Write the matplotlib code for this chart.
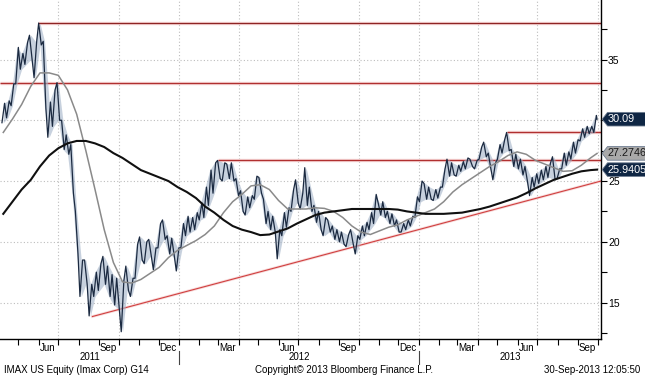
import numpy as np
import pandas as pd
import matplotlib
matplotlib.use("Agg")
import matplotlib.pyplot as plt
import matplotlib.dates as mdates
import matplotlib.transforms as mtransforms
from matplotlib.patches import Polygon
from matplotlib.lines import Line2D

plt.rcParams['font.family'] = ['Liberation Sans', 'DejaVu Sans']

# ---------------- data ----------------
week_start = "2011-04-08"
week_end = "2013-09-27"
weekly_low = [29.8, 30.2, 31.2, 33.0, 34.2, 34.6, 35.0, 33.5, 36.2, 31.0,
              28.6, 29.5, 30.0, 27.6, 27.2, 24.0, 19.0, 15.5, 16.5, 13.9,
              15.5, 16.0, 16.5, 15.5, 14.8, 14.5, 12.6, 16.0, 15.5, 17.0,
              18.5, 18.2, 18.8, 17.7, 19.5, 20.2, 19.0, 18.8, 17.6, 19.5,
              20.5, 20.8, 21.0, 21.8, 22.0, 23.0, 24.0, 25.2, 25.0, 25.2,
              25.0, 23.8, 22.5, 22.2, 22.8, 23.5, 24.0, 21.5, 21.0, 20.8,
              18.6, 20.5, 21.2, 22.5, 23.2, 22.7, 23.0, 22.5, 21.6, 21.0,
              20.5, 20.8, 20.2, 20.0, 19.8, 19.6, 19.8, 19.0, 20.2, 20.5,
              21.0, 21.5, 22.2, 22.0, 21.5, 21.3, 20.8, 20.8, 21.0, 21.3,
              22.0, 23.3, 23.5, 23.5, 23.4, 23.6, 24.5, 25.4, 25.5, 25.4,
              25.8, 26.0, 26.2, 26.0, 26.8, 27.0, 26.0, 25.1, 26.8, 27.3,
              27.5, 26.2, 26.0, 25.5, 24.9, 23.8, 24.5, 24.8, 25.1, 25.3,
              25.1, 25.2, 26.0, 26.3, 26.8, 27.3, 28.3, 28.6, 28.9, 29.0]
weekly_high = [31.4, 31.6, 33.0, 36.0, 35.5, 36.4, 37.0, 36.5, 38.0, 36.5,
               31.5, 32.5, 33.1, 30.0, 28.8, 28.0, 22.5, 18.5, 18.5, 16.5,
               17.5, 18.2, 18.8, 18.0, 17.3, 17.0, 16.8, 18.0, 17.0, 19.8,
               20.4, 20.0, 20.2, 19.5, 21.5, 21.8, 20.5, 20.3, 19.5, 21.5,
               22.1, 22.0, 22.4, 23.2, 24.5, 25.9, 26.5, 26.7, 26.5, 26.4,
               26.5, 25.2, 24.2, 23.7, 23.8, 25.4, 25.3, 23.5, 22.5, 22.1,
               21.0, 22.4, 22.8, 24.3, 25.1, 24.0, 26.1, 24.5, 23.0, 22.5,
               22.0, 21.8, 21.3, 21.0, 20.8, 20.6, 21.0, 20.5, 21.3, 21.6,
               22.4, 23.9, 23.2, 23.3, 22.5, 22.3, 21.8, 21.5, 21.8, 22.1,
               23.7, 25.0, 24.8, 24.5, 24.3, 24.5, 26.0, 26.8, 26.5, 26.3,
               26.6, 26.9, 26.8, 26.7, 27.8, 28.2, 27.3, 26.5, 28.0, 28.4,
               29.0, 27.6, 27.2, 26.8, 26.2, 25.3, 25.6, 25.9, 26.2, 26.5,
               27.0, 26.0, 27.3, 27.4, 28.2, 28.4, 29.3, 29.5, 29.5, 30.4]
last_date = "2013-09-30"
last_close = 30.09

# moving averages, one value every two weeks from week_start, plus last day
ma50 = [29.0, 30.1, 31.3, 32.8, 33.9, 33.9, 33.7, 32.5, 30.5, 27.5,
        24.3, 21.0, 18.3, 16.7, 16.6, 16.9, 17.4, 17.9, 18.7, 19.3,
        19.7, 20.1, 20.6, 21.3, 22.4, 23.3, 23.9, 24.6, 24.7, 24.3,
        23.4, 22.7, 22.7, 22.7, 22.8, 22.75, 22.5, 22.0, 21.3, 20.8,
        20.6, 20.9, 21.2, 21.4, 21.8, 22.1, 22.4, 22.7, 23.3, 24.1,
        24.7, 25.2, 25.7, 26.2, 26.6, 27.1, 27.4, 27.2, 26.7, 26.4,
        26.1, 25.8, 25.85, 26.3, 26.9]
ma200 = [22.3, 23.3, 24.3, 25.1, 26.2, 27.1, 27.7, 28.1, 28.3, 28.3,
         28.1, 27.8, 27.3, 26.9, 26.4, 25.9, 25.6, 25.3, 25.0, 24.5,
         24.1, 23.6, 22.9, 22.4, 21.8, 21.3, 21.0, 20.8, 20.55, 20.6,
         20.85, 21.1, 21.5, 21.85, 22.2, 22.4, 22.5, 22.6, 22.7, 22.7,
         22.7, 22.7, 22.7, 22.65, 22.5, 22.4, 22.3, 22.3, 22.3, 22.35,
         22.4, 22.55, 22.7, 22.9, 23.15, 23.4, 23.65, 24.0, 24.4, 24.75,
         25.1, 25.35, 25.6, 25.8, 25.9]
ma50_last = 27.2746
ma200_last = 25.9405

resistance_levels = [38.0, 33.03, 26.73, 29.06]
resistance_starts = ["2011-05-31", "2011-04-03", "2012-02-29", "2013-05-15"]
trend_dates = ["2011-08-22", "2013-10-06"]
trend_values = [13.85, 25.0]

x_start, x_end = "2011-04-03", "2013-10-06"
y_ticks = [15, 20, 25, 30, 35]
y_tick_labels = ["15", "20", "25", "", "35"]
month_labels_months = [3, 6, 9, 12]

footer_left = "IMAX US Equity (Imax Corp) G14"
footer_mid = "Copyright\u00a9 2013 Bloomberg Finance L.P."
footer_right = "30-Sep-2013 12:05:50"

# ---------------- figure ----------------
W, H = 645, 376
fig = plt.figure(figsize=(W / 100, H / 100), dpi=100)
ax = fig.add_axes([0, 37 / H, 601 / W, 339 / H])

weeks = pd.date_range(week_start, week_end, freq="7D")
lows = np.array(weekly_low)
highs = np.array(weekly_high)
mids = (lows + highs) / 2
next_mids = np.append(mids[1:], last_close)

zx, zy = [], []
for i, t in enumerate(weeks):
    a = t - pd.Timedelta(days=2)
    b = t + pd.Timedelta(days=2)
    if next_mids[i] >= mids[i]:
        zx += [a, b]; zy += [lows[i], highs[i]]
    else:
        zx += [a, b]; zy += [highs[i], lows[i]]
zx.append(pd.Timestamp(last_date)); zy.append(last_close)

price_navy = "#1b2a41"
ax.fill_between(weeks, lows, highs, color="#a3b3c8", alpha=0.6, lw=0, zorder=3)
ax.plot(zx, zy, color=price_navy, lw=0.9, zorder=4)

ma_dates = list(weeks[::2]) + [pd.Timestamp(last_date)]
ax.plot(ma_dates, ma50 + [ma50_last], color="#8a8a8a", lw=1.1, zorder=5)
ax.plot(ma_dates, ma200 + [ma200_last], color="#101010", lw=1.5, zorder=6)

xe = pd.Timestamp(x_end)
for i, (lvl, st) in enumerate(zip(resistance_levels, resistance_starts)):
    core = "#8e2424" if i == 0 else "#b03030"
    ax.plot([pd.Timestamp(st), xe], [lvl, lvl], color="#f5d3d3", lw=2.4,
            zorder=2, solid_capstyle="butt")
    ax.plot([pd.Timestamp(st), xe], [lvl, lvl], color=core, lw=0.9,
            zorder=2.1, solid_capstyle="butt")
ax.plot(pd.to_datetime(trend_dates), trend_values, color="#f7dada", lw=2.0, zorder=2)
ax.plot(pd.to_datetime(trend_dates), trend_values, color="#d04040", lw=0.8, zorder=2.1)

ax.set_xlim(pd.Timestamp(x_start), xe)
ax.set_ylim(12.0, 39.9)

# grids
for q in pd.date_range("2011-07-01", x_end, freq="QS"):
    ax.axvline(q, color="#bdbdbd", lw=0.8, ls=(0, (1, 2)), zorder=1)
for yv in y_ticks:
    ax.axhline(yv, color="#bdbdbd", lw=0.8, ls=(0, (1, 2)), zorder=1)

# spines
for s in ["left", "top"]:
    ax.spines[s].set_visible(False)
ax.spines["right"].set_linewidth(1.0)
ax.spines["bottom"].set_linewidth(1.0)

# y axis on right
ax.yaxis.tick_right()
ax.set_yticks(y_ticks)
ax.set_yticklabels(y_tick_labels)
ax.set_yticks([12.5, 17.5, 22.5, 27.5, 32.5, 37.5], minor=True)
ax.tick_params(axis="y", which="both", direction="out", length=4, width=0.8,
               labelsize=7.5, pad=1)

# x axis
ax.xaxis.set_major_locator(mdates.MonthLocator())
ax.xaxis.set_major_formatter(plt.NullFormatter())
ax.xaxis.set_minor_locator(mdates.MonthLocator(bymonth=month_labels_months, bymonthday=15))
ax.xaxis.set_minor_formatter(mdates.DateFormatter("%b"))
ax.tick_params(axis="x", which="major", direction="out", length=4, width=0.8)
ax.tick_params(axis="x", which="minor", length=0, labelsize=7, pad=3)

# year labels and separators
blend = mtransforms.blended_transform_factory(ax.transData, ax.transAxes)
x0, x1 = pd.Timestamp(x_start), xe
for yr in [2011, 2012, 2013]:
    s = max(pd.Timestamp(f"{yr}-01-01"), x0)
    e = min(pd.Timestamp(f"{yr + 1}-01-01"), x1)
    mid = s + (e - s) / 2
    ax.text(mid, -0.053, str(yr), transform=blend, ha="center", va="center",
            fontsize=7)
    if yr > 2011:
        ax.add_line(Line2D([s, s], [-0.036, -0.075], transform=blend,
                           color="#444444", lw=0.8, clip_on=False))

# right-hand value tags
tag_tr = mtransforms.blended_transform_factory(ax.transAxes, ax.transData)
def tag(value, text, face, tcolor):
    tr = fig.dpi_scale_trans + mtransforms.ScaledTranslation(1.0, value, tag_tr)
    h = 0.068
    poly = Polygon([(0.012, 0), (0.065, h), (0.6, h), (0.6, -h), (0.065, -h)],
                   closed=True, transform=tr, facecolor=face, edgecolor="#6d7c90",
                   lw=0.6, clip_on=False, zorder=20)
    fig.add_artist(poly)
    fig.text(0.062, 0, text, transform=tr, color=tcolor, fontsize=7.8,
             ha="left", va="center", zorder=21)

tag(last_close, f"{last_close:.2f}", "#0f2644", "white")
tag(ma50_last, f"{ma50_last:.4f}", "#a9a9a9", "#1a1a1a")
tag(ma200_last, f"{ma200_last:.4f}", "#0f2644", "white")

# footer
fig.text(4 / W, 1 - 370 / H, footer_left, ha="left", va="center", fontsize=7)
fig.text(344 / W, 1 - 370 / H, footer_mid, ha="center", va="center", fontsize=7)
fig.text(640 / W, 1 - 370 / H, footer_right, ha="right", va="center", fontsize=7)

fig.savefig("out.png", dpi=100, facecolor="white")
